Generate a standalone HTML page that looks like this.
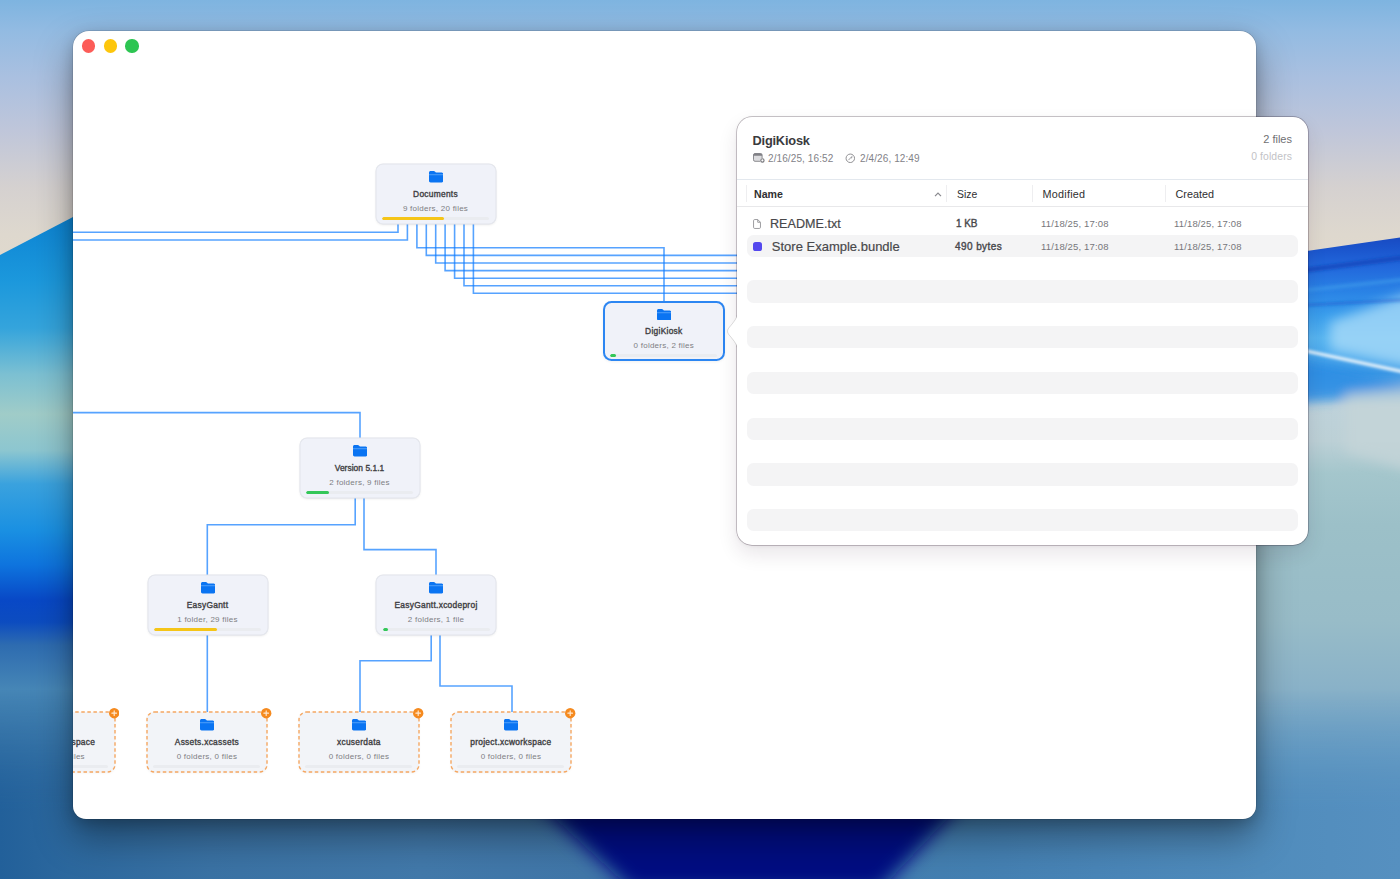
<!DOCTYPE html>
<html lang="en">
<head>
<meta charset="utf-8">
<title>DigiKiosk</title>
<style>
html,body{margin:0;padding:0;}
body{width:1400px;height:879px;overflow:hidden;position:relative;background:#7fa6c8;font-family:"Liberation Sans",sans-serif;-webkit-font-smoothing:antialiased;}
#wall{position:absolute;left:0;top:0;width:1400px;height:879px;display:block;}
#win{position:absolute;left:73px;top:31px;width:1182.5px;height:788px;background:#fff;border-radius:16px 16px 13px 13px;box-shadow:0 0 0 0.5px rgba(0,0,0,.18),0 18px 38px rgba(0,0,0,.38),0 4px 14px rgba(0,0,0,.18);overflow:hidden;}
.tl{position:absolute;top:8.4px;width:13.4px;height:13.4px;border-radius:50%;}
#lines{position:absolute;left:0;top:0;width:1400px;height:879px;pointer-events:none;}
/* nodes */
.node{position:absolute;width:120px;height:60px;box-sizing:border-box;background:#f0f2f9;border-radius:7px;box-shadow:inset 0 0 0 .5px #e2e4eb,0 0 0 .5px #e0e2e9,0 1px 2.5px rgba(0,0,0,.09);text-align:center;}
.node.sel{box-shadow:inset 0 0 0 2px #2c86f2,0 1px 3px rgba(0,0,0,.06);border-radius:8.5px;width:121.6px;}
.node.sel .t{top:25px;}.node.sel .s{top:40px;}.node.sel .bar{top:52.8px;left:7px;right:8px;}.node.sel svg.fi{top:7.6px;}
.node.dash{box-shadow:0 1px 3px rgba(0,0,0,.05);background:#f2f4f8;}
.node svg.ds{position:absolute;left:-2px;top:-2.4px;width:124px;height:64px;overflow:visible;}
.node svg.fi{position:absolute;left:50%;top:7.1px;margin-left:-7px;width:14.3px;height:11.4px;}
.node .t{position:absolute;left:0;right:0;top:24.4px;font-size:8.4px;font-weight:400;color:#3f3f43;-webkit-text-stroke:.36px #3f3f43;line-height:10px;white-space:nowrap;letter-spacing:.28px;}
.node .s{position:absolute;left:0;right:0;top:39.4px;font-size:8px;color:#7e7e83;line-height:10px;white-space:nowrap;letter-spacing:.25px;}
.node .bar{position:absolute;left:6.5px;right:6.5px;top:52.3px;height:3px;border-radius:2px;background:#eaecf0;overflow:hidden;}
.node .bar i{display:block;height:100%;border-radius:2px;}
.badge{position:absolute;width:10.4px;height:10.4px;}

#pop{position:absolute;left:737px;top:116.5px;width:570.5px;height:428.5px;background:#fff;border-radius:15px;box-shadow:0 0 0 .7px rgba(20,0,20,.3),0 9px 20px rgba(50,20,50,.11),0 1px 4px rgba(50,20,50,.06);}
#arrow{position:absolute;left:726px;top:310.3px;width:12px;height:42.5px;z-index:5;}
#pop .ttl{position:absolute;left:15.5px;top:16px;font-size:12.8px;font-weight:700;color:#3a3a3d;line-height:16px;letter-spacing:-.2px;}
#pop .meta{position:absolute;left:15px;top:36.3px;font-size:10px;color:#828287;line-height:12px;white-space:nowrap;letter-spacing:.1px;}
#pop .meta span{position:absolute;top:0;}
#pop .cnt1{position:absolute;right:15.5px;top:16.8px;font-size:11px;color:#6f6f73;line-height:13px;}
#pop .cnt2{position:absolute;right:15.5px;top:34.3px;font-size:10.4px;color:#c2c2c6;line-height:12px;letter-spacing:.1px;}
#pop .hr{position:absolute;left:0;right:0;height:1px;background:#e3e8ee;}
#pop .vs{position:absolute;top:68px;width:1px;height:17px;background:#eeeef0;}
#pop .hd{position:absolute;top:71.1px;font-size:10.8px;color:#2f2f31;line-height:13px;}
#pop .row{position:absolute;left:10px;width:550.5px;height:22.4px;border-radius:6.5px;}
#pop .row.alt{background:#f4f4f5;}
#pop .row .nm{position:absolute;left:23.5px;top:4px;font-size:12.6px;color:#48484b;-webkit-text-stroke:.18px #48484b;line-height:15px;white-space:nowrap;}
#pop .row .sz{position:absolute;left:208px;top:5.6px;font-size:10px;font-weight:400;color:#48484c;-webkit-text-stroke:.38px #48484c;line-height:12px;white-space:nowrap;letter-spacing:.42px;}
#pop .row .d1{position:absolute;left:294px;top:5.5px;font-size:9.5px;color:#77777b;line-height:12px;white-space:nowrap;letter-spacing:.15px;}
#pop .row .d2{position:absolute;left:427px;top:5.5px;font-size:9.5px;color:#77777b;line-height:12px;white-space:nowrap;letter-spacing:.15px;}
</style>
</head>
<body>
<svg id="wall" viewBox="0 0 1400 879" preserveAspectRatio="none">
<defs>
<linearGradient id="gsky" gradientUnits="userSpaceOnUse" x1="0" y1="0" x2="0" y2="260">
<stop offset="0" stop-color="#7eb4e0"/>
<stop offset=".12" stop-color="#93bbe2"/>
<stop offset=".3" stop-color="#aac0e0"/>
<stop offset=".5" stop-color="#bfc6da"/>
<stop offset=".72" stop-color="#d5d1d0"/>
<stop offset=".9" stop-color="#ded8ce"/>
<stop offset="1" stop-color="#e0d9cd"/>
</linearGradient>
<linearGradient id="gleft" gradientUnits="userSpaceOnUse" x1="0" y1="215" x2="0" y2="879">
<stop offset="0" stop-color="#0c84d4"/>
<stop offset="0.1" stop-color="#1c98dc"/>
<stop offset="0.17" stop-color="#34a4dc"/>
<stop offset="0.24" stop-color="#7cc0d2"/>
<stop offset="0.3" stop-color="#a0ccc8"/>
<stop offset="0.355" stop-color="#8cc6d0"/>
<stop offset="0.405" stop-color="#3aa2de"/>
<stop offset="0.475" stop-color="#1a90e2"/>
<stop offset="0.527" stop-color="#0e74de"/>
<stop offset="0.58" stop-color="#0848c6"/>
<stop offset="0.613" stop-color="#0c4cc0"/>
<stop offset="0.648" stop-color="#2e6cb0"/>
<stop offset="0.715" stop-color="#4686b6"/>
<stop offset="0.79" stop-color="#3e7cae"/>
<stop offset="0.88" stop-color="#2e6ca2"/>
<stop offset="1" stop-color="#2a669c"/>
</linearGradient>
<linearGradient id="gright" gradientUnits="userSpaceOnUse" x1="0" y1="235" x2="0" y2="879">
<stop offset="0" stop-color="#1848c0"/>
<stop offset="0.02" stop-color="#1a54cc"/>
<stop offset="0.05" stop-color="#2268dc"/>
<stop offset="0.09" stop-color="#2a84e6"/>
<stop offset="0.125" stop-color="#3a9eec"/>
<stop offset="0.16" stop-color="#56b4f0"/>
<stop offset="0.19" stop-color="#4aa8ec"/>
<stop offset="0.215" stop-color="#3a98e4"/>
<stop offset="0.24" stop-color="#90c0e0"/>
<stop offset="0.265" stop-color="#bed2da"/>
<stop offset="0.32" stop-color="#bcd0d6"/>
<stop offset="0.37" stop-color="#a4c6cc"/>
<stop offset="0.45" stop-color="#9cc0c8"/>
<stop offset="0.6" stop-color="#98bcc8"/>
<stop offset="0.7" stop-color="#8ab2c8"/>
<stop offset="0.8" stop-color="#72a4c6"/>
<stop offset="0.9" stop-color="#5a94c0"/>
<stop offset="1" stop-color="#4c88b8"/>
</linearGradient>
<linearGradient id="gbot" gradientUnits="userSpaceOnUse" x1="0" y1="0" x2="1400" y2="0">
<stop offset="0" stop-color="#22609a"/>
<stop offset=".05" stop-color="#2c689e"/>
<stop offset=".15" stop-color="#3a72a4"/>
<stop offset=".3" stop-color="#4279aa"/>
<stop offset=".42" stop-color="#4076a8"/>
<stop offset=".7" stop-color="#4480b2"/>
<stop offset=".8" stop-color="#4a86b8"/>
<stop offset=".9" stop-color="#508cbc"/>
<stop offset="1" stop-color="#5690c0"/>
</linearGradient>
<linearGradient id="gfade" gradientUnits="userSpaceOnUse" x1="0" y1="690" x2="0" y2="812">
<stop offset="0" stop-color="#000"/>
<stop offset="1" stop-color="#fff"/>
</linearGradient>
<mask id="mfade" maskUnits="userSpaceOnUse" x="0" y="680" width="1400" height="199"><rect x="0" y="680" width="1400" height="199" fill="url(#gfade)"/></mask>
<filter id="b6" x="-20%" y="-20%" width="140%" height="140%"><feGaussianBlur stdDeviation="6"/></filter>
<filter id="b12" x="-20%" y="-50%" width="140%" height="200%"><feGaussianBlur stdDeviation="9"/></filter>
<filter id="b2" x="-20%" y="-200%" width="140%" height="500%"><feGaussianBlur stdDeviation="1.6"/></filter>
</defs>
<rect x="0" y="0" width="1400" height="879" fill="url(#gsky)"/>
<!-- left blue hill -->
<polygon points="0,255 73,217 160,178 160,879 0,879" fill="url(#gleft)"/>
<!-- right blue streaks -->
<polygon points="1200,266.500 1400,237.500 1400,879 1200,879" fill="url(#gright)"/>
<g filter="url(#b6)">
<polygon points="1330,322 1440,282 1440,374 1330,350" fill="#a6daf8" opacity=".8"/>
<polygon points="1280,354 1440,388 1440,396 1350,398 1280,404" fill="#2f8ee4" opacity=".9"/>
<polygon points="1345,394 1440,384 1440,480 1345,452" fill="#c4d4d8" opacity=".8"/>
</g>
<g filter="url(#b2)">
<line x1="1280" y1="273.300" x2="1420" y2="255.500" stroke="#1644b8" stroke-width="5" opacity=".7"/>
<line x1="1280" y1="293" x2="1420" y2="278" stroke="#3f9cec" stroke-width="4" opacity=".6"/>
<line x1="1280" y1="306.500" x2="1420" y2="299" stroke="#1a58cc" stroke-width="3" opacity=".5"/>
<line x1="1280" y1="345.400" x2="1420" y2="375.300" stroke="#f2f8fc" stroke-width="3"/>
</g>
<!-- bottom -->
<rect x="0" y="680" width="1400" height="199" fill="url(#gbot)" mask="url(#mfade)"/>
<polygon points="535,800 965,800 880,890 632,890" fill="#020c82" filter="url(#b12)"/>
</svg>

<div id="win">
<div id="cv" style="position:absolute;left:-73px;top:-31px;width:1400px;height:879px;"><svg id="lines" viewBox="0 0 1400 879"><g fill="none" stroke="rgba(14,124,255,.7)" stroke-width="1.600" stroke-linejoin="miter"><path d="M398 224V232.3H60"/><path d="M407.4 224V240H60"/><path d="M416.9 224V247.7H664V301"/><path d="M426.3 224V255.4H760"/><path d="M435.7 224V263H760"/><path d="M445.1 224V270.6H760"/><path d="M454.6 224V278.3H760"/><path d="M464 224V285.8H760"/><path d="M473.4 224V293.3H760"/><path d="M60 412.6H360V438"/><path d="M355.2 498V524.8H207.3V575"/><path d="M364 498V549.6H436V575"/><path d="M207.3 635V713"/><path d="M431.2 635V660.8H360V713"/><path d="M440 635V686H512V713"/></g></svg>
<div class="node " style="left:375.5px;top:164.4px;"><svg class="fi" viewBox="0.6 0.5 14.8 11.6" preserveAspectRatio="none"><path d="M0.6 2.2c0-1 .7-1.7 1.7-1.7h3.1c.6 0 1 .2 1.4.6l.6.6c.3.3.6.4 1 .4h5.3c1 0 1.7.7 1.700 1.700v6.700c0 1-.7 1.700-1.700 1.700H2.300c-1 0-1.700-.7-1.700-1.700z" fill="#0a74f2"/><path d="M0.600 4.300h14.800" stroke="#5aa6fa" stroke-width=".9"/></svg><div class="t">Documents</div><div class="s">9 folders, 20 files</div><div class="bar"><i style="width:61.5px;background:#f5c518;"></i></div></div>
<div class="node sel" style="left:603px;top:301.1px;"><svg class="fi" viewBox="0.6 0.5 14.8 11.6" preserveAspectRatio="none"><path d="M0.6 2.2c0-1 .7-1.7 1.7-1.7h3.1c.6 0 1 .2 1.4.6l.6.6c.3.3.6.4 1 .4h5.3c1 0 1.7.7 1.700 1.700v6.700c0 1-.7 1.700-1.700 1.700H2.300c-1 0-1.700-.7-1.700-1.700z" fill="#0a74f2"/><path d="M0.600 4.300h14.800" stroke="#5aa6fa" stroke-width=".9"/></svg><div class="t">DigiKiosk</div><div class="s">0 folders, 2 files</div><div class="bar"><i style="width:5.5px;background:#34c759;"></i></div></div>
<div class="node " style="left:299.5px;top:438.4px;"><svg class="fi" viewBox="0.6 0.5 14.8 11.6" preserveAspectRatio="none"><path d="M0.6 2.2c0-1 .7-1.7 1.7-1.7h3.1c.6 0 1 .2 1.4.6l.6.6c.3.3.6.4 1 .4h5.3c1 0 1.7.7 1.700 1.700v6.700c0 1-.7 1.700-1.700 1.700H2.300c-1 0-1.700-.7-1.700-1.700z" fill="#0a74f2"/><path d="M0.600 4.300h14.800" stroke="#5aa6fa" stroke-width=".9"/></svg><div class="t" style="letter-spacing:.05px">Version 5.1.1</div><div class="s">2 folders, 9 files</div><div class="bar"><i style="width:22.5px;background:#34c759;"></i></div></div>
<div class="node " style="left:147.5px;top:575.4px;"><svg class="fi" viewBox="0.6 0.5 14.8 11.6" preserveAspectRatio="none"><path d="M0.6 2.2c0-1 .7-1.7 1.7-1.7h3.1c.6 0 1 .2 1.4.6l.6.6c.3.3.6.4 1 .4h5.3c1 0 1.7.7 1.700 1.700v6.700c0 1-.7 1.700-1.700 1.700H2.300c-1 0-1.700-.7-1.700-1.700z" fill="#0a74f2"/><path d="M0.600 4.300h14.800" stroke="#5aa6fa" stroke-width=".9"/></svg><div class="t">EasyGantt</div><div class="s">1 folder, 29 files</div><div class="bar"><i style="width:63px;background:#f5c518;"></i></div></div>
<div class="node " style="left:376px;top:575.4px;"><svg class="fi" viewBox="0.6 0.5 14.8 11.6" preserveAspectRatio="none"><path d="M0.6 2.2c0-1 .7-1.7 1.7-1.7h3.1c.6 0 1 .2 1.4.6l.6.6c.3.3.6.4 1 .4h5.3c1 0 1.7.7 1.700 1.700v6.700c0 1-.7 1.700-1.700 1.700H2.300c-1 0-1.700-.7-1.700-1.700z" fill="#0a74f2"/><path d="M0.600 4.300h14.800" stroke="#5aa6fa" stroke-width=".9"/></svg><div class="t">EasyGantt.xcodeproj</div><div class="s">2 folders, 1 file</div><div class="bar"><i style="width:5.5px;background:#34c759;"></i></div></div>
<div class="node dash" style="left:-5.4px;top:712.4px;"><svg class="ds" viewBox="-2 -2 124 64"><rect x="0" y="0" width="120" height="60" rx="7.500" fill="none" stroke="#f5a762" stroke-width="1.400" stroke-dasharray="3.500 2.560"/></svg><svg class="fi" viewBox="0.6 0.5 14.8 11.6" preserveAspectRatio="none"><path d="M0.6 2.2c0-1 .7-1.7 1.7-1.7h3.1c.6 0 1 .2 1.4.6l.6.6c.3.3.6.4 1 .4h5.3c1 0 1.7.7 1.700 1.700v6.700c0 1-.7 1.700-1.700 1.700H2.300c-1 0-1.700-.7-1.700-1.700z" fill="#0a74f2"/><path d="M0.600 4.300h14.800" stroke="#5aa6fa" stroke-width=".9"/></svg><div class="t">project.xcworkspace</div><div class="s">0 folders, 0 files</div><div class="bar"></div></div><div class="badge" style="left:109px;top:708.300px;"><svg viewBox="0 0 10.4 10.4" width="10.4" height="10.4" style="display:block"><circle cx="5.200" cy="5.200" r="5.200" fill="#f58a1f"/><path d="M5.200 2.900V7.500M2.900 5.200H7.500" stroke="#ffe9d2" stroke-width="1.150" stroke-linecap="round"/></svg></div>
<div class="node dash" style="left:146.9px;top:712.4px;"><svg class="ds" viewBox="-2 -2 124 64"><rect x="0" y="0" width="120" height="60" rx="7.500" fill="none" stroke="#f5a762" stroke-width="1.400" stroke-dasharray="3.500 2.560"/></svg><svg class="fi" viewBox="0.6 0.5 14.8 11.6" preserveAspectRatio="none"><path d="M0.6 2.2c0-1 .7-1.7 1.7-1.7h3.1c.6 0 1 .2 1.4.6l.6.6c.3.3.6.4 1 .4h5.3c1 0 1.7.7 1.700 1.700v6.700c0 1-.7 1.700-1.700 1.700H2.300c-1 0-1.700-.7-1.700-1.700z" fill="#0a74f2"/><path d="M0.600 4.300h14.800" stroke="#5aa6fa" stroke-width=".9"/></svg><div class="t">Assets.xcassets</div><div class="s">0 folders, 0 files</div><div class="bar"></div></div><div class="badge" style="left:261.300px;top:708.300px;"><svg viewBox="0 0 10.4 10.4" width="10.4" height="10.4" style="display:block"><circle cx="5.200" cy="5.200" r="5.200" fill="#f58a1f"/><path d="M5.200 2.900V7.500M2.900 5.200H7.500" stroke="#ffe9d2" stroke-width="1.150" stroke-linecap="round"/></svg></div>
<div class="node dash" style="left:298.9px;top:712.4px;"><svg class="ds" viewBox="-2 -2 124 64"><rect x="0" y="0" width="120" height="60" rx="7.500" fill="none" stroke="#f5a762" stroke-width="1.400" stroke-dasharray="3.500 2.560"/></svg><svg class="fi" viewBox="0.6 0.5 14.8 11.6" preserveAspectRatio="none"><path d="M0.6 2.2c0-1 .7-1.7 1.7-1.7h3.1c.6 0 1 .2 1.4.6l.6.6c.3.3.6.4 1 .4h5.3c1 0 1.7.7 1.700 1.700v6.700c0 1-.7 1.700-1.700 1.700H2.300c-1 0-1.700-.7-1.700-1.700z" fill="#0a74f2"/><path d="M0.600 4.300h14.800" stroke="#5aa6fa" stroke-width=".9"/></svg><div class="t">xcuserdata</div><div class="s">0 folders, 0 files</div><div class="bar"></div></div><div class="badge" style="left:413.300px;top:708.300px;"><svg viewBox="0 0 10.4 10.4" width="10.4" height="10.4" style="display:block"><circle cx="5.200" cy="5.200" r="5.200" fill="#f58a1f"/><path d="M5.200 2.900V7.500M2.900 5.200H7.500" stroke="#ffe9d2" stroke-width="1.150" stroke-linecap="round"/></svg></div>
<div class="node dash" style="left:450.9px;top:712.4px;"><svg class="ds" viewBox="-2 -2 124 64"><rect x="0" y="0" width="120" height="60" rx="7.500" fill="none" stroke="#f5a762" stroke-width="1.400" stroke-dasharray="3.500 2.560"/></svg><svg class="fi" viewBox="0.6 0.5 14.8 11.6" preserveAspectRatio="none"><path d="M0.6 2.2c0-1 .7-1.7 1.7-1.7h3.1c.6 0 1 .2 1.4.6l.6.6c.3.3.6.4 1 .4h5.3c1 0 1.7.7 1.700 1.700v6.700c0 1-.7 1.700-1.700 1.700H2.300c-1 0-1.700-.7-1.700-1.700z" fill="#0a74f2"/><path d="M0.600 4.300h14.800" stroke="#5aa6fa" stroke-width=".9"/></svg><div class="t">project.xcworkspace</div><div class="s">0 folders, 0 files</div><div class="bar"></div></div><div class="badge" style="left:565.300px;top:708.300px;"><svg viewBox="0 0 10.4 10.4" width="10.4" height="10.4" style="display:block"><circle cx="5.200" cy="5.200" r="5.200" fill="#f58a1f"/><path d="M5.200 2.900V7.500M2.900 5.200H7.500" stroke="#ffe9d2" stroke-width="1.150" stroke-linecap="round"/></svg></div>
</div>
<div class="tl" style="left:8.700px;background:#fc5c58;"></div>
<div class="tl" style="left:30.700px;background:#fdc60c;"></div>
<div class="tl" style="left:52.400px;background:#2dc552;"></div>
</div>


<svg id="arrow" viewBox="0 0 12 36" preserveAspectRatio="none"><path d="M12 .5C12 6 8.500 9.500 3.200 14.800C1 17 1 19 3.200 21.200C8.500 26.500 12 30 12 35.500Z" fill="#fff" stroke="rgba(0,0,0,.22)" stroke-width=".6"/><rect x="11" y="0" width="2" height="36" fill="#fff"/></svg>
<div id="pop">
<div class="ttl">DigiKiosk</div>
<div class="meta">
<svg style="position:absolute;left:.7px;top:-.2px;width:12px;height:10px" viewBox="0 0 12 10"><rect x=".5" y=".5" width="8.600" height="7.800" rx="1.500" fill="#dcdcdf" stroke="#808085" stroke-width=".9"/><path d="M.5 2.800V2A1.500 1.500 0 0 1 2 .5H7.600A1.500 1.500 0 0 1 9.100 2V2.800Z" fill="#808085"/><circle cx="9.400" cy="7.400" r="2.500" fill="#fff"/><circle cx="9.400" cy="7.400" r="1.650" fill="none" stroke="#77777c" stroke-width="1.150"/></svg>
<span style="left:16px">2/16/25, 16:52</span>
<svg style="position:absolute;left:93.200px;top:-.1px;width:10.600px;height:10.600px" viewBox="0 0 10 10"><circle cx="5" cy="5" r="4" fill="none" stroke="#8a8a8e" stroke-width=".9"/><path d="M3.300 6.700L6.500 3.300M6.500 3.300l-.3 1.700" stroke="#8a8a8e" stroke-width=".8" fill="none"/></svg>
<span style="left:108px">2/4/26, 12:49</span>
</div>
<div class="cnt1">2 files</div>
<div class="cnt2">0 folders</div>
<div class="hr" style="top:62.500px"></div>
<div class="hr" style="top:89.500px;background:#e8e8ea"></div>
<div class="vs" style="left:9px"></div>
<div class="hd" style="left:17px;font-weight:700;font-size:10.600px">Name</div>
<svg style="position:absolute;left:196.800px;top:75px;width:8px;height:5px" viewBox="0 0 8 5"><path d="M1 4.200L4 1.200L7 4.200" fill="none" stroke="#88888d" stroke-width="1.200"/></svg>
<div class="vs" style="left:209px"></div>
<div class="hd" style="left:220px;font-size:10.400px">Size</div>
<div class="vs" style="left:295px"></div>
<div class="hd" style="left:305.500px;letter-spacing:.25px">Modified</div>
<div class="vs" style="left:428px"></div>
<div class="hd" style="left:438.500px">Created</div>

<div class="row" style="top:96.100px">
<svg style="position:absolute;left:6px;top:6.600px;width:8.200px;height:10px" viewBox="0 0 9 11"><path d="M1.800.6h3.400l3 3v5.600c0 .7-.5 1.200-1.200 1.200H1.800C1.100 10.400.6 9.900.6 9.200V1.800C.6 1.100 1.100.6 1.800.6z" fill="none" stroke="#88888c" stroke-width=".9"/><path d="M5.200.8v2.800h2.800" fill="none" stroke="#88888c" stroke-width=".9"/></svg>
<div class="nm" style="left:23px">README.txt</div><div class="sz" style="letter-spacing:-.1px;left:209px">1 KB</div><div class="d1">11/18/25, 17:08</div><div class="d2">11/18/25, 17:08</div>
</div>
<div class="row alt" style="top:118.200px">
<div style="position:absolute;left:6.300px;top:7.400px;width:8.600px;height:8.600px;border-radius:2.600px;background:#5448ee"></div>
<div class="nm" style="font-size:13px;left:24.800px">Store Example.bundle</div><div class="sz" style="top:6.500px">490 bytes</div><div class="d1" style="top:6.500px">11/18/25, 17:08</div><div class="d2" style="top:6.500px">11/18/25, 17:08</div>
</div>
<div class="row alt" style="top:163.9px"></div>
<div class="row alt" style="top:209.6px"></div>
<div class="row alt" style="top:255.3px"></div>
<div class="row alt" style="top:301.0px"></div>
<div class="row alt" style="top:346.7px"></div>
<div class="row alt" style="top:392.4px"></div>
</div>
</body>
</html>
